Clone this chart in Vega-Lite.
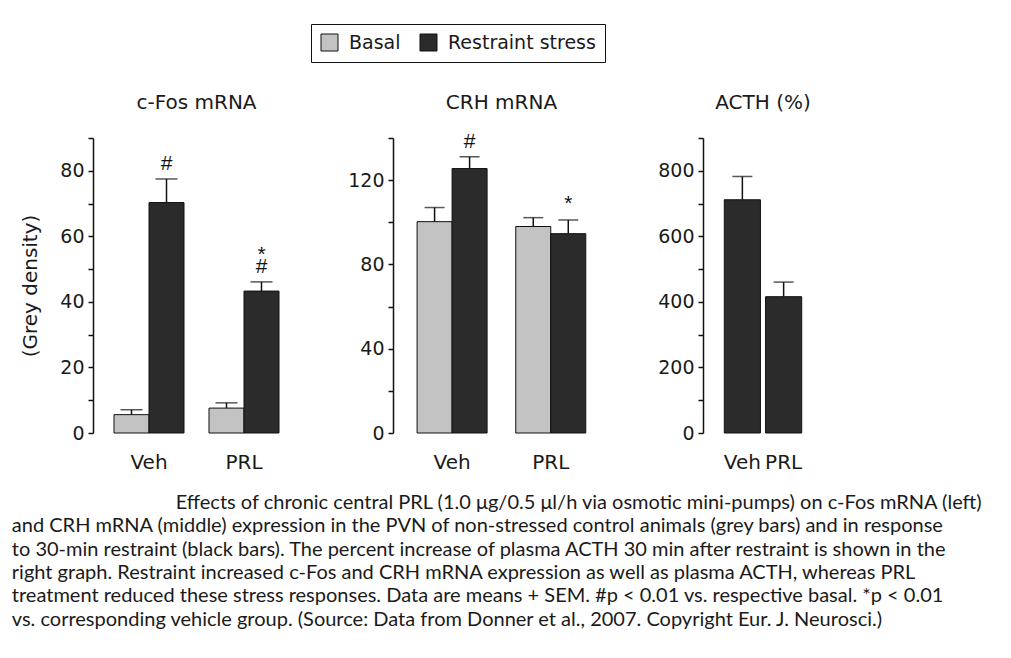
{
  "$schema": "https://vega.github.io/schema/vega-lite/v6.json",
  "background": "white",
  "padding": {"left": 11, "top": 23, "right": 5, "bottom": 5},
  "datasets": {
    "cfos": [
      {"group": "Veh", "cond": "Basal", "mean": 5.6, "upper": 7.1, "sig": "", "star": ""},
      {"group": "Veh", "cond": "Restraint stress", "mean": 70.3, "upper": 77.5, "sig": "#", "star": ""},
      {"group": "PRL", "cond": "Basal", "mean": 7.6, "upper": 9.2, "sig": "", "star": ""},
      {"group": "PRL", "cond": "Restraint stress", "mean": 43.3, "upper": 46.1, "sig": "#", "star": "*"}
    ],
    "crh": [
      {"group": "Veh", "cond": "Basal", "mean": 100.3, "upper": 107, "sig": "", "star": ""},
      {"group": "Veh", "cond": "Restraint stress", "mean": 125.5, "upper": 131.1, "sig": "#", "star": ""},
      {"group": "PRL", "cond": "Basal", "mean": 98, "upper": 102.2, "sig": "", "star": ""},
      {"group": "PRL", "cond": "Restraint stress", "mean": 94.6, "upper": 101.1, "sig": "", "star": "*"}
    ],
    "acth": [
      {"group": "Veh", "cond": "Restraint stress", "mean": 711.6, "upper": 782.6},
      {"group": "PRL", "cond": "Restraint stress", "mean": 415.9, "upper": 460.4}
    ]
  },
  "title": {
    "text": [
      "\u200b\u00a0\u00a0\u00a0\u00a0\u00a0\u00a0\u00a0\u00a0\u00a0\u00a0\u00a0\u00a0\u00a0\u00a0\u00a0\u00a0\u00a0\u00a0\u00a0\u00a0\u00a0\u00a0\u00a0\u00a0\u00a0\u00a0\u00a0\u00a0\u00a0\u00a0\u00a0\u00a0Effects of chronic central PRL (1.0 μg/0.5 μl/h via osmotic mini-pumps) on c-Fos mRNA (left)",
      "and CRH mRNA (middle) expression in the PVN of non-stressed control animals (grey bars) and in response",
      "to 30-min restraint (black bars). The percent increase of plasma ACTH 30 min after restraint is shown in the",
      "right graph. Restraint increased c-Fos and CRH mRNA expression as well as plasma ACTH, whereas PRL",
      "treatment reduced these stress responses. Data are means + SEM. #p < 0.01 vs. respective basal. *p < 0.01",
      "vs. corresponding vehicle group. (Source: Data from Donner et al., 2007. Copyright Eur. J. Neurosci.)"
    ],
    "orient": "bottom",
    "anchor": "start",
    "frame": "bounds",
    "font": "Lato",
    "fontSize": 20,
    "fontWeight": "normal",
    "lineHeight": 23.3,
    "offset": 21,
    "dx": -9,
    "color": "#1a1a1a"
  },
  "spacing": 47,
  "hconcat": [
    {
      "width": 207,
      "height": 295,
      "title": {"text": "c-Fos mRNA"},
      "data": {"name": "cfos"},
      "encoding": {
        "x": {"field": "group", "type": "nominal", "sort": ["Veh", "PRL"], "scale": {"paddingInner": 0.263, "paddingOuter": 0.221}, "axis": {"title": null}},
        "xOffset": {"field": "cond", "type": "nominal", "sort": ["Basal", "Restraint stress"], "scale": {"paddingInner": 0, "paddingOuter": 0}}
      },
      "layer": [
        {
          "mark": {"type": "bar", "stroke": "#111", "strokeWidth": 1},
          "encoding": {
            "y": {"field": "mean", "type": "quantitative", "scale": {"domain": [0, 90], "nice": false},
              "axis": {"title": "(Grey density)", "values": [0, 10, 20, 30, 40, 50, 60, 70, 80, 90], "labelExpr": "datum.value % 20 === 0 && datum.value < 90 ? datum.label : ''"}},
            "color": {"field": "cond", "type": "nominal", "scale": {"domain": ["Basal", "Restraint stress"], "range": ["#c3c3c3", "#2b2b2b"]},
              "legend": {"title": null, "orient": "none", "legendX": 218, "legendY": -114, "direction": "horizontal"}}
          }
        },
        {
          "mark": {"type": "rule", "strokeWidth": 1.5, "color": "#111"},
          "encoding": {
            "y": {"field": "mean", "type": "quantitative", "scale": {"domain": [0, 90], "nice": false},
              "axis": {"title": "(Grey density)", "values": [0, 10, 20, 30, 40, 50, 60, 70, 80, 90], "labelExpr": "datum.value % 20 === 0 && datum.value < 90 ? datum.label : ''"}},
            "y2": {"field": "upper"}
          }
        },
        {
          "mark": {"type": "tick", "size": 22, "thickness": 1.5, "color": "#111"},
          "encoding": {
            "y": {"field": "upper", "type": "quantitative", "scale": {"domain": [0, 90], "nice": false},
              "axis": {"title": "(Grey density)", "values": [0, 10, 20, 30, 40, 50, 60, 70, 80, 90], "labelExpr": "datum.value % 20 === 0 && datum.value < 90 ? datum.label : ''"}}
          }
        },
        {
          "mark": {"type": "text", "baseline": "alphabetic", "dy": -9, "fontSize": 21, "font": "Liberation Sans", "color": "#111"},
          "encoding": {
            "y": {"field": "upper", "type": "quantitative", "scale": {"domain": [0, 90], "nice": false},
              "axis": {"title": "(Grey density)", "values": [0, 10, 20, 30, 40, 50, 60, 70, 80, 90], "labelExpr": "datum.value % 20 === 0 && datum.value < 90 ? datum.label : ''"}},
            "text": {"field": "sig"}
          }
        },
        {
          "mark": {"type": "text", "baseline": "alphabetic", "dy": -21, "fontSize": 21, "font": "Liberation Sans", "color": "#111"},
          "encoding": {
            "y": {"field": "upper", "type": "quantitative", "scale": {"domain": [0, 90], "nice": false},
              "axis": {"title": "(Grey density)", "values": [0, 10, 20, 30, 40, 50, 60, 70, 80, 90], "labelExpr": "datum.value % 20 === 0 && datum.value < 90 ? datum.label : ''"}},
            "text": {"field": "star"}
          }
        }
      ]
    },
    {
      "width": 217,
      "height": 295,
      "title": {"text": "CRH mRNA", "offset": 17},
      "data": {"name": "crh"},
      "encoding": {
        "x": {"field": "group", "type": "nominal", "sort": ["Veh", "PRL"], "scale": {"paddingInner": 0.289, "paddingOuter": 0.244}, "axis": {"title": null}},
        "xOffset": {"field": "cond", "type": "nominal", "sort": ["Basal", "Restraint stress"], "scale": {"paddingInner": 0, "paddingOuter": 0}}
      },
      "layer": [
        {
          "mark": {"type": "bar", "stroke": "#111", "strokeWidth": 1},
          "encoding": {
            "y": {"field": "mean", "type": "quantitative", "scale": {"domain": [0, 140], "nice": false},
              "axis": {"title": null, "values": [0, 20, 40, 60, 80, 100, 120, 140], "labelExpr": "datum.value % 40 === 0 && datum.value < 140 ? datum.label : ''"}},
            "color": {"field": "cond", "type": "nominal", "scale": {"domain": ["Basal", "Restraint stress"], "range": ["#c3c3c3", "#2b2b2b"]}}
          }
        },
        {
          "mark": {"type": "rule", "strokeWidth": 1.5, "color": "#111"},
          "encoding": {
            "y": {"field": "mean", "type": "quantitative", "scale": {"domain": [0, 140], "nice": false},
              "axis": {"title": null, "values": [0, 20, 40, 60, 80, 100, 120, 140], "labelExpr": "datum.value % 40 === 0 && datum.value < 140 ? datum.label : ''"}},
            "y2": {"field": "upper"}
          }
        },
        {
          "mark": {"type": "tick", "size": 20, "thickness": 1.5, "color": "#111"},
          "encoding": {
            "y": {"field": "upper", "type": "quantitative", "scale": {"domain": [0, 140], "nice": false},
              "axis": {"title": null, "values": [0, 20, 40, 60, 80, 100, 120, 140], "labelExpr": "datum.value % 40 === 0 && datum.value < 140 ? datum.label : ''"}}
          }
        },
        {
          "mark": {"type": "text", "baseline": "alphabetic", "dy": -9, "fontSize": 21, "font": "Liberation Sans", "color": "#111"},
          "encoding": {
            "y": {"field": "upper", "type": "quantitative", "scale": {"domain": [0, 140], "nice": false},
              "axis": {"title": null, "values": [0, 20, 40, 60, 80, 100, 120, 140], "labelExpr": "datum.value % 40 === 0 && datum.value < 140 ? datum.label : ''"}},
            "text": {"field": "sig"}
          }
        },
        {
          "mark": {"type": "text", "baseline": "alphabetic", "dy": -10, "fontSize": 21, "font": "Liberation Sans", "color": "#111"},
          "encoding": {
            "y": {"field": "upper", "type": "quantitative", "scale": {"domain": [0, 140], "nice": false},
              "axis": {"title": null, "values": [0, 20, 40, 60, 80, 100, 120, 140], "labelExpr": "datum.value % 40 === 0 && datum.value < 140 ? datum.label : ''"}},
            "text": {"field": "star"}
          }
        }
      ]
    },
    {
      "width": 120,
      "height": 295,
      "title": {"text": "ACTH (%)"},
      "data": {"name": "acth"},
      "encoding": {
        "x": {"field": "group", "type": "nominal", "sort": ["Veh", "PRL"], "scale": {"paddingInner": 0.124, "paddingOuter": 0.516}, "axis": {"title": null}}
      },
      "layer": [
        {
          "mark": {"type": "bar", "stroke": "#111", "strokeWidth": 1},
          "encoding": {
            "y": {"field": "mean", "type": "quantitative", "scale": {"domain": [0, 900], "nice": false},
              "axis": {"title": null, "values": [0, 100, 200, 300, 400, 500, 600, 700, 800, 900], "labelExpr": "datum.value % 200 === 0 && datum.value < 900 ? datum.label : ''"}},
            "color": {"field": "cond", "type": "nominal", "scale": {"domain": ["Basal", "Restraint stress"], "range": ["#c3c3c3", "#2b2b2b"]}}
          }
        },
        {
          "mark": {"type": "rule", "strokeWidth": 1.5, "color": "#111"},
          "encoding": {
            "y": {"field": "mean", "type": "quantitative", "scale": {"domain": [0, 900], "nice": false},
              "axis": {"title": null, "values": [0, 100, 200, 300, 400, 500, 600, 700, 800, 900], "labelExpr": "datum.value % 200 === 0 && datum.value < 900 ? datum.label : ''"}},
            "y2": {"field": "upper"}
          }
        },
        {
          "mark": {"type": "tick", "size": 20, "thickness": 1.5, "color": "#111"},
          "encoding": {
            "y": {"field": "upper", "type": "quantitative", "scale": {"domain": [0, 900], "nice": false},
              "axis": {"title": null, "values": [0, 100, 200, 300, 400, 500, 600, 700, 800, 900], "labelExpr": "datum.value % 200 === 0 && datum.value < 900 ? datum.label : ''"}}
          }
        }
      ]
    }
  ],
  "config": {
    "font": "DejaVu Sans",
    "view": {"stroke": null},
    "title": {"font": "DejaVu Sans", "fontSize": 20, "fontWeight": "normal", "color": "#1a1a1a", "offset": 24},
    "axisY": {"domainColor": "#111", "domainWidth": 1.5, "tickColor": "#111", "tickWidth": 1.5, "tickSize": 5, "labelFontSize": 19, "labelColor": "#1a1a1a", "labelPadding": 4, "grid": false, "titleFontSize": 20, "titleFontWeight": "normal", "titleColor": "#1a1a1a", "titlePadding": 19},
    "axisX": {"domain": false, "ticks": false, "labelFontSize": 20, "labelColor": "#1a1a1a", "labelPadding": 19, "labelAngle": 0, "grid": false},
    "legend": {"symbolType": "square", "symbolSize": 289, "symbolStrokeColor": "#111", "symbolStrokeWidth": 1, "symbolOpacity": 1, "labelFontSize": 19, "labelColor": "#1a1a1a", "labelOffset": 10, "columnPadding": 17, "padding": 9, "strokeColor": "#111", "fillColor": "white"}
  }
}
